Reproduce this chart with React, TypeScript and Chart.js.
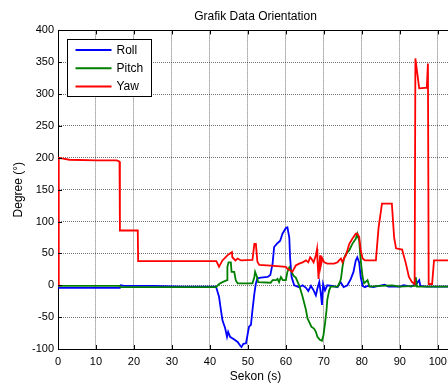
import { useEffect, useRef } from "react";
import { Chart, registerables } from "chart.js";

Chart.register(...registerables);

const FONT = '"Liberation Sans", Arial, Helvetica, sans-serif';

const chartTitle = "Grafik Data Orientation";
const xLabel = "Sekon (s)";
const yLabel = "Degree (°)";
const seriesNames = ["Roll", "Pitch", "Yaw"];
const seriesColors = ["#0000ff", "#008000", "#ff0000"];

const xMin = 0;
const xMax = 104;
const xStep = 10;
const yMin = -100;
const yMax = 400;
const yStep = 50;

const rollT = [0, 16.3, 16.5, 17.5, 25, 33, 41.6, 42.4, 42.9, 43.3, 44, 44.5, 44.8, 45.3, 46.4, 47.3, 48, 48.3, 48.8, 49.5, 49.9, 50.3, 50.8, 51.2, 51.7, 52.1, 52.5, 53.4, 55.2, 55.9, 56.5, 56.9, 57.6, 58.5, 59.1, 60, 60.4, 60.9, 61.1, 61.5, 62.2, 63.5, 64.4, 65.3, 65.9, 66.6, 67.3, 67.9, 68.3, 68.8, 69.2, 69.5, 69.8, 70.3, 70.9, 72.2, 73.6, 74.4, 75.2, 76.2, 77.1, 77.8, 78.4, 78.8, 79.3, 79.7, 80.2, 80.8, 81.5, 83, 86, 87, 90, 91, 93, 94.5, 95.1, 95.4, 97, 104];
const rollV = [-4, -4, 0, -1, -1, -2, -2, -18, -39, -55, -67, -81, -73, -81, -85, -89, -95, -97, -92, -91, -78, -65, -62, -39, -13, 3, 11, 12, 13, 16, 34, 60, 65, 70, 81, 90, 91, 75, 44, 13, 0, -3, 0, -4, -9, -1, -8, -16, -5, 5, -13, -31, 2, -8, 0, -1, -3, 5, -3, 0, 10, 21, 39, 44, 36, 13, -1, -3, -1, -3, 1, -2, -2, 0, -2, 3, 8, -1, -2, -2];

const pitchT = [0, 16.3, 16.5, 41.6, 42.4, 43.3, 44.5, 44.6, 44.9, 45.5, 45.7, 46.4, 46.8, 47.3, 51.2, 51.7, 51.9, 52.4, 52.7, 56, 56.5, 57.4, 57.8, 58.2, 58.7, 59.2, 60, 60.4, 60.9, 61.5, 62, 62.6, 63.5, 64.4, 65.3, 65.7, 66.1, 66.7, 67.4, 67.9, 68.3, 69, 69.5, 69.9, 70.3, 70.7, 70.9, 71.4, 71.8, 73.6, 74, 74.5, 74.9, 75.3, 75.8, 76.7, 77.5, 78.4, 78.8, 79.3, 79.7, 80.2, 80.6, 81.5, 82, 85, 88, 90, 94, 94.2, 94.5, 104];
const pitchV = [-1, -1, -3, -3, 2, 5, 8, 29, 36, 36, 21, 21, 8, 3, 3, 13, 21, 13, 5, 4, 8, 8, 10, 5, 13, 8, 8, 21, 28, 21, 15, 12, 0, -18, -39, -52, -57, -65, -68, -73, -81, -86, -87, -78, -60, -39, -23, -8, -2, -2, 2, 10, 29, 42, 49, 55, 65, 73, 81, 70, 39, 13, 3, 8, -2, -1, 0, -2, -1, 13, -2, -2];

const yawT = [0, 0.2, 1, 3, 10, 15.5, 16.2, 16.3, 21, 21.1, 41.7, 42.4, 43.3, 44.6, 45.1, 45.8, 45.9, 46.7, 47.3, 48.2, 51.2, 51.7, 52.1, 52.5, 53, 56, 60, 60.4, 61.3, 61.7, 62.6, 63.5, 64.4, 65.3, 65.9, 66.4, 66.7, 67.3, 67.9, 68.2, 68.3, 68.6, 68.8, 69, 69.2, 69.6, 70.1, 70.9, 72.7, 73.6, 74, 74.5, 74.9, 75.3, 75.8, 76.2, 76.7, 77.5, 78.4, 78.8, 79.3, 79.7, 80.2, 80.8, 83.7, 84.4, 85.3, 87.9, 88.5, 89, 90.6, 91.6, 92.4, 93.2, 93.9, 94.1, 95.1, 97.1, 97.4, 97.6, 98.5, 99, 104];
const yawV = [0, 200, 199, 197, 196, 196, 194, 86, 86, 38, 38, 29, 39, 47, 49, 52, 44, 39, 42, 39, 40, 65, 65, 37, 32, 31, 29, 26, 23, 21, 31, 34, 36, 39, 36, 44, 42, 36, 47, 57, 42, 10, 31, 47, 31, 42, 36, 34, 34, 36, 39, 42, 36, 42, 47, 55, 65, 73, 81, 81, 76, 55, 42, 39, 39, 90, 128, 128, 75, 58, 56, 34, 13, 5, 2, 356, 309, 310, 348, 2, 2, 39, 39];

const toPoints = (t: number[], v: number[]) => t.map((x, i) => ({ x, y: v[i] }));

const decorPlugin = {
  id: "matlabDecor",
  afterDraw(chart: any) {
    const { ctx, chartArea } = chart;
    const { left, right, top, bottom } = chartArea;
    const xs = chart.scales.x;
    const ys = chart.scales.y;
    ctx.save();
    ctx.strokeStyle = "#000";
    ctx.lineWidth = 1;
    ctx.beginPath();
    ctx.moveTo(left, Math.round(top) + 0.5);
    ctx.lineTo(right, Math.round(top) + 0.5);
    ctx.moveTo(Math.round(right) - 0.5, top);
    ctx.lineTo(Math.round(right) - 0.5, bottom);
    const tick = 4;
    xs.ticks.forEach((tk: any) => {
      const px = Math.round(xs.getPixelForValue(tk.value)) + 0.5;
      ctx.moveTo(px, bottom);
      ctx.lineTo(px, bottom - tick);
      ctx.moveTo(px, top);
      ctx.lineTo(px, top + tick);
    });
    ys.ticks.forEach((tk: any) => {
      const py = Math.round(ys.getPixelForValue(tk.value)) + 0.5;
      ctx.moveTo(left, py);
      ctx.lineTo(left + tick, py);
      ctx.moveTo(right, py);
      ctx.lineTo(right - tick, py);
    });
    ctx.stroke();

    // legend box
    const bx = Math.round(left + 9) + 0.5;
    const by = Math.round(top + 10) - 0.5;
    const bw = 84;
    const bh = 57;
    ctx.fillStyle = "#fff";
    ctx.fillRect(bx, by, bw, bh);
    ctx.strokeStyle = "#000";
    ctx.strokeRect(bx, by, bw, bh);
    ctx.font = `12px ${FONT}`;
    ctx.textBaseline = "middle";
    ctx.textAlign = "left";
    seriesNames.forEach((name, i) => {
      const ry = by + 10.5 + i * 18.3;
      ctx.strokeStyle = seriesColors[i];
      ctx.lineWidth = 2;
      ctx.beginPath();
      ctx.moveTo(bx + 8, ry);
      ctx.lineTo(bx + 44, ry);
      ctx.stroke();
      ctx.fillStyle = "#000";
      ctx.fillText(name, bx + 49, ry + 0.5);
    });
    ctx.restore();
  },
};

export default function App() {
  const ref = useRef<HTMLCanvasElement | null>(null);
  useEffect(() => {
    if (!ref.current) return;
    const chart = new Chart(ref.current, {
      type: "line",
      data: {
        datasets: [
          { label: seriesNames[0], data: toPoints(rollT, rollV), borderColor: seriesColors[0], order: 2 },
          { label: seriesNames[1], data: toPoints(pitchT, pitchV), borderColor: seriesColors[1], order: 1 },
          { label: seriesNames[2], data: toPoints(yawT, yawV), borderColor: seriesColors[2], order: 0 },
        ].map((d) => ({ ...d, borderWidth: 1.8, pointRadius: 0, tension: 0, fill: false })),
      },
      options: {
        animation: false,
        responsive: false,
        devicePixelRatio: 1,
        parsing: true,
        layout: { padding: { top: 0, right: 7, bottom: 0, left: 0 } },
        plugins: {
          legend: { display: false },
          tooltip: { enabled: false },
          title: {
            display: true,
            text: chartTitle,
            fullSize: false,
            color: "#000",
            font: { family: FONT, size: 12, weight: "normal" },
            padding: { top: 9, bottom: 7 },
          },
        },
        scales: {
          x: {
            type: "linear",
            min: xMin,
            max: xMax,
            ticks: {
              stepSize: xStep,
              includeBounds: false,
              color: "#000",
              font: { family: FONT, size: 11 },
              padding: 6,
              maxRotation: 0,
            },
            grid: { color: "rgba(0,0,0,0.55)", drawTicks: false, lineWidth: 1 },
            border: { display: true, color: "#000", width: 1, dash: [1, 1] },
            title: {
              display: true,
              text: xLabel,
              color: "#000",
              font: { family: FONT, size: 12 },
              padding: { top: 0, bottom: 0 },
            },
            afterFit: (s: any) => {
              s.height = 35;
              s.paddingRight = 0;
            },
          },
          y: {
            type: "linear",
            min: yMin,
            max: yMax,
            ticks: {
              stepSize: yStep,
              color: "#000",
              font: { family: FONT, size: 11 },
              padding: 4,
            },
            grid: { color: "rgba(0,0,0,0.55)", drawTicks: false, lineWidth: 1 },
            border: { display: true, color: "#000", width: 1, dash: [1, 1] },
            title: {
              display: true,
              text: yLabel,
              color: "#000",
              font: { family: FONT, size: 12 },
              padding: { top: 11, bottom: 0 },
            },
            afterFit: (s: any) => {
              s.width = 58;
            },
          },
        },
      },
      plugins: [decorPlugin],
    } as any);
    return () => chart.destroy();
  }, []);
  return (
    <div style={{ position: "fixed", left: 0, top: 0, width: 448, height: 384, overflow: "hidden", background: "#fff" }}>
      <canvas ref={ref} width={460} height={384} style={{ display: "block", width: 460, height: 384 }} />
    </div>
  );
}
